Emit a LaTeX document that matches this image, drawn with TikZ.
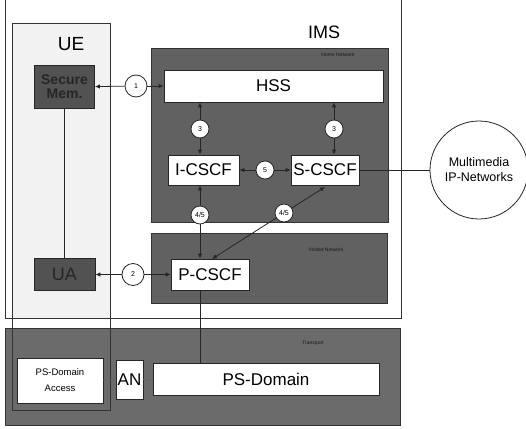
\documentclass[tikz,border=0pt]{standalone}
\usepackage{fontspec}
\setmainfont{Liberation Sans}
\usetikzlibrary{arrows.meta}

\begin{document}
\begin{tikzpicture}[x=1pt,y=-1pt,
  >={Latex[length=5pt,width=4.5pt]},
  box/.style={draw=black!85, fill=white, line width=0.8pt, inner sep=0pt, font=\fontsize{17}{19}\selectfont},
  darkbox/.style={draw=black!85, fill=black!68, text=black!85, line width=0.8pt, inner sep=0pt},
  num/.style={circle, draw=black!85, fill=white, line width=0.8pt, inner sep=0pt, minimum size=18pt, font=\fontsize{7}{8}\selectfont},
  area/.style={draw=black!80, line width=0.8pt},
  tag/.style={font=\fontsize{5}{6}\selectfont, text=black!90},
  link/.style={black!85, line width=0.8pt}]
\useasboundingbox (0,0) rectangle (526,428);
% regions
\draw[area] (5,0) -- (5,318) -- (401,318) -- (401,0);
\fill[black!5] (12,23) rectangle (110,318);
\draw[area, fill=black!62] (151,48) rectangle (388,222);
\draw[area, fill=black!62] (151,233) rectangle (387,303);
\draw[area, fill=black!58] (5,328) rectangle (400,425);
\draw[area] (12,23) rectangle (110,410);
\node[tag] (homelbl) at (338,55) {Home Network};
\node[tag] (visitlbl) at (326,250) {Visited Network};
\node[tag] (translbl) at (313,343) {Transport};
\node[font=\fontsize{19}{21}\selectfont] (uelbl) at (71,44) {UE};
\node[font=\fontsize{18}{20}\selectfont] (imslbl) at (324,32) {IMS};
% nodes
\node[darkbox, minimum width=60pt, minimum height=43pt, align=center, font=\fontsize{14}{14}\selectfont\bfseries] (secmem) at (64.5,87) {Secure\\Mem.};
\node[darkbox, minimum width=61pt, minimum height=32pt, font=\fontsize{18}{20}\selectfont] (ua) at (64.5,274.5) {UA};
\node[box, minimum width=219pt, minimum height=32pt] (hss) at (273.5,86) {HSS};
\node[box, minimum width=71pt, minimum height=30pt] (icscf) at (203.5,170) {I-CSCF};
\node[box, minimum width=68pt, minimum height=30pt] (scscf) at (325,170) {S-CSCF};
\node[box, minimum width=78pt, minimum height=31pt] (pcscf) at (210,274.5) {P-CSCF};
\node[box, minimum width=86pt, minimum height=45pt, align=center, font=\fontsize{9.5}{16}\selectfont] (psaccess) at (60,380.5) {PS-Domain\\Access};
\node[box, minimum width=27pt, minimum height=39pt] (an) at (129.5,379.5) {AN};
\node[box, minimum width=226pt, minimum height=32pt] (psdomain) at (266,379) {PS-Domain};
\node[circle, draw=black!85, line width=0.8pt, minimum size=98pt, inner sep=0pt, align=center, font=\fontsize{12.5}{15}\selectfont] (mmnet) at (479,170) {Multimedia\\IP-Networks};
\node[num, minimum size=22pt] (n1) at (136,86) {1};
\node[num, minimum size=22pt] (n2) at (133,274.5) {2};
\node[num] (n3a) at (200,129) {3};
\node[num] (n3b) at (334,129) {3};
\node[num] (n5) at (265,170) {5};
\node[num] (n45a) at (200,215) {4/5};
\node[num] (n45b) at (284,213) {4/5};
\coordinate (sdiag) at (325,187);
\coordinate (pdiag) at (212,259);
% connectors
\draw[link] (secmem) -- (ua);
\draw[link, ->] (n1) -- (secmem);
\draw[link, ->] (n1) -- (hss);
\draw[link, ->] (n2) -- (ua);
\draw[link, ->] (n2) -- (pcscf);
\draw[link, ->] (n3a) -- (hss.south -| n3a);
\draw[link, ->] (n3a) -- (icscf.north -| n3a);
\draw[link, ->] (n3b) -- (hss.south -| n3b);
\draw[link, ->] (n3b) -- (scscf.north -| n3b);
\draw[link, ->] (n5) -- (icscf);
\draw[link, ->] (n5) -- (scscf);
\draw[link, ->] (n45a) -- (icscf.south -| n45a);
\draw[link, ->] (n45a) -- (pcscf.north -| n45a);
\draw[link, ->] (n45b) -- (sdiag);
\draw[link, ->] (n45b) -- (pdiag);
\draw[link] (scscf) -- (mmnet);
\draw[link] (pcscf.south -| n45a) -- (psdomain.north -| n45a);
\draw[link, black!60] (psaccess) -- (an);
\draw[link, black!60] (an) -- (psdomain);
\end{tikzpicture}
\end{document}
